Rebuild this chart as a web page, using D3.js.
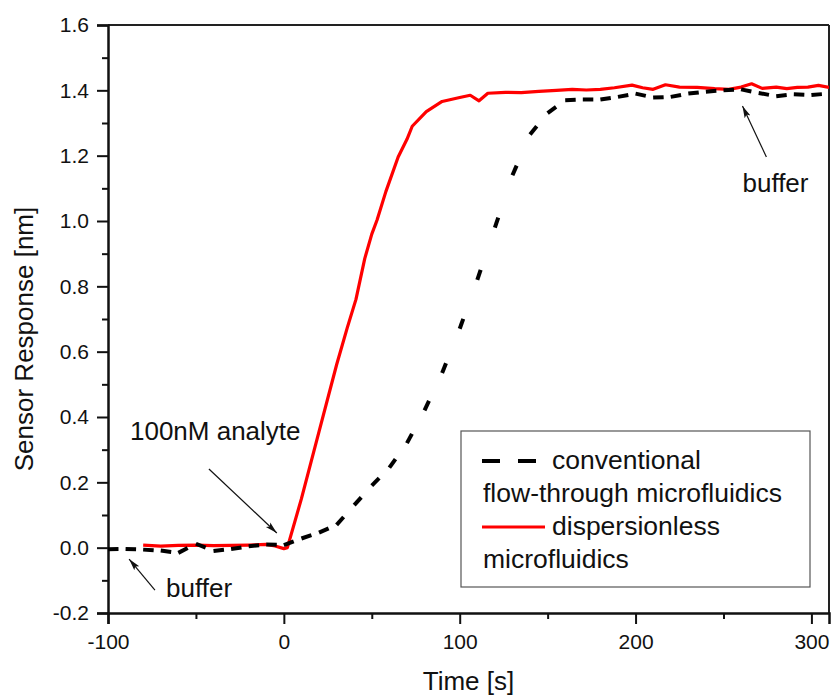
<!DOCTYPE html>
<html>
<head>
<meta charset="utf-8">
<script src="https://cdn.jsdelivr.net/npm/d3@7"></script>
<style>
  body { margin: 0; background: #fff; }
  svg { display: block; font-family: "Liberation Sans", Arial, sans-serif; }
</style>
</head>
<body>
<div id="chart"></div>
<script>
// values
const conventionalTime = [-100, -90, -80, -70, -60, -50, -40, -30, -20, -10, 0, 10, 20, 30, 40, 50, 60, 70, 80, 90,
  100, 110, 120, 130, 140, 150, 160, 170, 180, 190, 200, 210, 220, 230, 240, 250, 260, 270, 280, 290, 300, 310];
const conventionalResponse = [-0.005, -0.004, -0.006, -0.009, -0.016, 0.012, -0.010, -0.004, 0.004, 0.010, 0.008,
  0.028, 0.046, 0.07, 0.13, 0.19, 0.245, 0.32, 0.42, 0.535, 0.67, 0.82, 0.98, 1.14, 1.265, 1.33, 1.37, 1.372, 1.372,
  1.38, 1.39, 1.378, 1.38, 1.39, 1.396, 1.40, 1.403, 1.392, 1.382, 1.388, 1.386, 1.39];

const dispersionlessTime = [-80, -70, -60, -50, -40, -30, -20, -10, -5, 0, 2, 10, 20, 30, 36, 41, 46, 50, 53, 58, 65,
  70, 73, 81, 90, 100, 106, 111, 116, 126, 135, 145, 155, 164, 172, 180, 188, 198, 204, 210, 217, 225, 235, 245, 253,
  260, 266, 272, 280, 286, 292, 298, 304, 310];
const dispersionlessResponse = [0.008, 0.005, 0.007, 0.008, 0.006, 0.007, 0.008, 0.010, 0.005, -0.003, 0.0, 0.15,
  0.355, 0.56, 0.672, 0.76, 0.885, 0.96, 1.003, 1.09, 1.196, 1.25, 1.29, 1.335, 1.366, 1.378, 1.385, 1.368, 1.391,
  1.394, 1.393, 1.397, 1.40, 1.403, 1.401, 1.403, 1.408, 1.416, 1.408, 1.403, 1.417, 1.41, 1.409, 1.405, 1.403, 1.41,
  1.42, 1.406, 1.41, 1.405, 1.409, 1.41, 1.415, 1.409];

const xTicks = [-100, 0, 100, 200, 300];
const xMinorTicks = [-50, 50, 150, 250];
const yTicks = [-0.2, 0, 0.2, 0.4, 0.6, 0.8, 1.0, 1.2, 1.4, 1.6];
const yMinorTicks = [-0.1, 0.1, 0.3, 0.5, 0.7, 0.9, 1.1, 1.3, 1.5];

const legendLines = [["conventional", "flow-through microfluidics"], ["dispersionless", "microfluidics"]];

// annotation text anchor and arrow (tail -> head), in data units
const annotations = [
  { text: "100nM analyte", tx: -87.5, ty: 0.33, from: [-42.6, 0.241], to: [-4, 0.045] },
  { text: "buffer", tx: -67, ty: -0.151, from: [-73.3, -0.13], to: [-88, -0.035] },
  { text: "buffer", tx: 260.8, ty: 1.089, from: [274.4, 1.196], to: [260.8, 1.352] }
];

const width = 831, height = 695;
const margin = { top: 25, right: 2, bottom: 82, left: 108 };
const plotW = width - margin.left - margin.right,
  plotH = height - margin.top - margin.bottom;

const svg = d3.select("#chart").append("svg")
  .attr("width", width)
  .attr("height", height);

svg.append("defs").append("clipPath").attr("id", "clip")
  .append("rect").attr("width", plotW).attr("height", plotH);

const marker = svg.select("defs").append("marker")
  .attr("id", "arrow")
  .attr("markerUnits", "userSpaceOnUse")
  .attr("viewBox", "0 0 12 8")
  .attr("refX", 12).attr("refY", 4)
  .attr("markerWidth", 12).attr("markerHeight", 8)
  .attr("orient", "auto");
marker.append("path").attr("d", "M0,0.8 L12,4 L0,7.2 L2.5,4 Z").attr("fill", "#111");

const g = svg.append("g").attr("transform", `translate(${margin.left},${margin.top})`);

const x = d3.scaleLinear().domain([-100, 310]).range([0, plotW]);
const y = d3.scaleLinear().domain([-0.2, 1.6]).range([plotH, 0]);

// frame (top and right)
g.append("line").attr("x1", 0).attr("x2", plotW).attr("y1", 0).attr("y2", 0)
  .attr("stroke", "#222").attr("stroke-width", 2);
g.append("line").attr("x1", plotW).attr("x2", plotW).attr("y1", 0).attr("y2", plotH)
  .attr("stroke", "#222").attr("stroke-width", 2);

// axes
g.append("g").attr("transform", `translate(0,${plotH})`)
  .call(d3.axisBottom(x).tickValues(xTicks).tickSize(11).tickPadding(10).tickFormat(d => String(d)));
g.append("g").attr("transform", `translate(0,${plotH})`)
  .call(d3.axisBottom(x).tickValues(xMinorTicks).tickSize(6).tickFormat(""))
  .select(".domain").remove();

g.append("g")
  .call(d3.axisLeft(y).tickValues(yTicks).tickSize(11).tickPadding(8).tickFormat(d => d.toFixed(1)));
g.append("g")
  .call(d3.axisLeft(y).tickValues(yMinorTicks).tickSize(6).tickFormat(""))
  .select(".domain").remove();

g.selectAll(".domain").attr("stroke", "#111").attr("stroke-width", 2.5);
g.selectAll(".tick line").attr("stroke", "#111").attr("stroke-width", 2);
g.selectAll(".tick text").attr("fill", "#111").style("font-size", "21px")
  .style("font-family", '"Liberation Sans", Arial, sans-serif');

// axis titles
svg.append("text")
  .attr("x", margin.left + plotW / 2).attr("y", 690)
  .attr("text-anchor", "middle")
  .style("font-size", "26px").attr("fill", "#111")
  .text("Time [s]");

svg.append("text")
  .attr("transform", "translate(33,339) rotate(-90)")
  .attr("text-anchor", "middle")
  .style("font-size", "26px").attr("fill", "#111")
  .text("Sensor Response [nm]");

// series
const lines = g.append("g").attr("clip-path", "url(#clip)");
const line = d3.line().x(d => x(d[0])).y(d => y(d[1]));

const conventional = conventionalTime.map((t, i) => [t, conventionalResponse[i]]);
const dispersionless = dispersionlessTime.map((t, i) => [t, dispersionlessResponse[i]]);

lines.append("path")
  .datum(dispersionless)
  .attr("d", line)
  .attr("fill", "none")
  .attr("stroke", "#f00")
  .attr("stroke-width", 3.2)
  .attr("stroke-linejoin", "round");

// dash restarts at every sample, like the original plot
lines.selectAll(".seg")
  .data(d3.pairs(conventional))
  .enter()
  .append("path")
  .attr("class", "seg")
  .attr("d", line)
  .attr("fill", "none")
  .attr("stroke", "#000")
  .attr("stroke-width", 4)
  .attr("stroke-dasharray", "10.5,1000");

// annotations
annotations.forEach(a => {
  g.append("text")
    .attr("x", x(a.tx)).attr("y", y(a.ty))
    .style("font-size", "26px").attr("fill", "#111")
    .text(a.text);
  g.append("line")
    .attr("x1", x(a.from[0])).attr("y1", y(a.from[1]))
    .attr("x2", x(a.to[0])).attr("y2", y(a.to[1]))
    .attr("stroke", "#111").attr("stroke-width", 1.2)
    .attr("marker-end", "url(#arrow)");
});

// legend
const legend = svg.append("g").attr("transform", "translate(461,431)");
legend.append("rect")
  .attr("width", 349).attr("height", 156)
  .attr("fill", "#fff").attr("stroke", "#555").attr("stroke-width", 1.2);

legend.append("line")
  .attr("x1", 21).attr("x2", 76).attr("y1", 30).attr("y2", 30)
  .attr("stroke", "#000").attr("stroke-width", 4).attr("stroke-dasharray", "18,18");
legend.append("line")
  .attr("x1", 21).attr("x2", 84).attr("y1", 96).attr("y2", 96)
  .attr("stroke", "#f00").attr("stroke-width", 3.2);

legendLines.forEach((pair, i) => {
  legend.append("text")
    .attr("x", 91).attr("y", 38 + i * 66)
    .style("font-size", "26.5px").attr("fill", "#111")
    .text(pair[0]);
  legend.append("text")
    .attr("x", 22).attr("y", 71 + i * 66)
    .style("font-size", "26.5px").attr("fill", "#111")
    .text(pair[1]);
});
</script>
</body>
</html>
